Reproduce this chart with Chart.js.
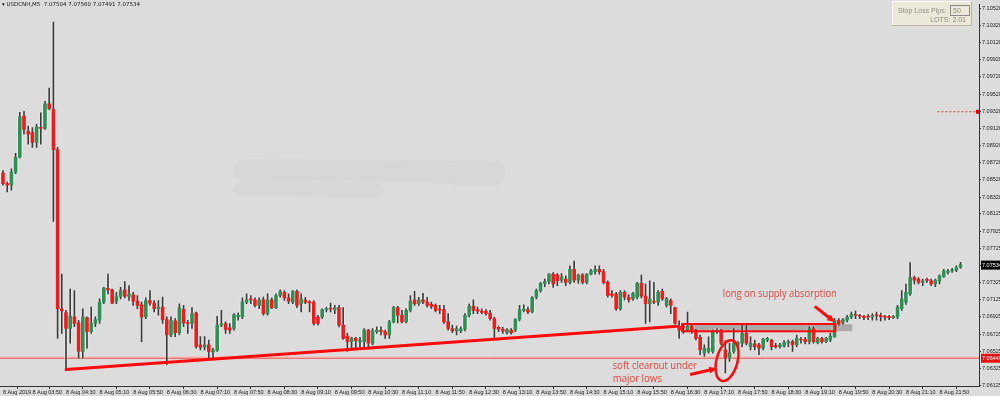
<!DOCTYPE html>
<html>
<head>
<meta charset="utf-8">
<script src="https://cdn.jsdelivr.net/npm/chart.js@4"></script>
<style>
  html, body { margin: 0; padding: 0; background: #dcdcdc; }
  #wrap { width: 1000px; height: 396px; position: relative; }
</style>
</head>
<body>
<div id="wrap"><canvas id="chart" width="1000" height="396"></canvas></div>
<script>
// USDCNH M5, 8 Aug 2019, one candle per 5 minutes starting 03:15
const headerText = '\u25BE USDCNH,M5  7.07504 7.07560 7.07491 7.07534';
const startMinutes = 3 * 60 + 15;
const barMinutes = 5;

const opens = [
  7.08600, 7.08477, 7.08458, 7.08611, 7.08784, 7.09263, 7.09090, 7.09071, 7.08956, 7.09129,
  7.09121, 7.09408, 7.09339, 7.08872, 7.07020, 7.06974, 7.06790, 7.06925, 7.06856, 7.06522,
  7.06917, 7.06752, 7.06848, 7.06886, 7.07097, 7.07258, 7.07239, 7.07109, 7.07162, 7.07239,
  7.07162, 7.07181, 7.07109, 7.07066, 7.06925, 7.07116, 7.07086, 7.07020, 7.07040, 7.06894,
  7.06714, 7.06879, 7.06741, 7.07013, 7.06856, 7.06848, 7.06971, 7.06599, 7.06572, 7.06599,
  7.06514, 7.06534, 7.06829, 7.06848, 7.06798, 7.06790, 7.06925, 7.06925, 7.07097, 7.07128,
  7.07124, 7.07059, 7.07124, 7.06963, 7.07124, 7.07032, 7.07174, 7.07212, 7.07147, 7.07097,
  7.07224, 7.07078, 7.07124, 7.07097, 7.07097, 7.06924, 7.06924, 7.07009, 7.07020, 7.07009,
  7.07032, 7.06829, 7.06702, 7.06637, 7.06675, 7.06637, 7.06637, 7.06771, 7.06618, 7.06752,
  7.06771, 7.06752, 7.06714, 7.06867, 7.07032, 7.06944, 7.06867, 7.07001, 7.07124, 7.07078,
  7.07124, 7.07097, 7.07070, 7.07059, 7.07009, 7.07009, 7.06867, 7.06790, 7.06763, 7.06763,
  7.06782, 7.06944, 7.07047, 7.07009, 7.06993, 7.06993, 7.06970, 7.06905, 7.06802, 7.06783,
  7.06740, 7.06771, 7.06771, 7.06898, 7.07001, 7.07009, 7.06982, 7.07154, 7.07231, 7.07315,
  7.07338, 7.07423, 7.07415, 7.07354, 7.07365, 7.07327, 7.07480, 7.07354, 7.07415, 7.07327,
  7.07423, 7.07453, 7.07480, 7.07453, 7.07327, 7.07193, 7.07193, 7.07020, 7.07212, 7.07154,
  7.07135, 7.07154, 7.07315, 7.07166, 7.07078, 7.07105, 7.07097, 7.07223, 7.07059, 7.07116,
  7.07032, 7.06817, 7.06809, 7.06771, 7.06817, 7.06771, 7.06687, 7.06503, 7.06522, 7.06522,
  7.06752, 7.06771, 7.06541, 7.06445, 7.06522, 7.06599, 7.06618, 7.06733, 7.06579, 7.06610,
  7.06599, 7.06560, 7.06656, 7.06656, 7.06587, 7.06579, 7.06587, 7.06618, 7.06637, 7.06599,
  7.06664, 7.06664, 7.06637, 7.06790, 7.06625, 7.06675, 7.06637, 7.06656, 7.06694, 7.06886,
  7.06855, 7.06886, 7.06924, 7.06951, 7.06936, 7.06932, 7.06928, 7.06924, 7.06944, 7.06944,
  7.06924, 7.06924, 7.06917, 7.06924, 7.07020, 7.07097, 7.07193, 7.07384, 7.07365, 7.07327,
  7.07354, 7.07346, 7.07308, 7.07346, 7.07392, 7.07442, 7.07461, 7.07469, 7.07504
];
const highs = [
  7.08630, 7.08496, 7.08649, 7.08830, 7.09309, 7.09320, 7.09148, 7.09129, 7.09167, 7.09301,
  7.09435, 7.09589, 7.10359, 7.08899, 7.07423, 7.07001, 7.07250, 7.07231, 7.06886, 7.07020,
  7.06925, 7.07040, 7.06925, 7.07135, 7.07270, 7.07423, 7.07250, 7.07212, 7.07270, 7.07335,
  7.07289, 7.07212, 7.07174, 7.07097, 7.07147, 7.07231, 7.07116, 7.07116, 7.07155, 7.06925,
  7.06925, 7.06905, 7.07078, 7.07059, 7.06886, 7.07032, 7.06982, 7.06695, 7.06695, 7.06656,
  7.06560, 7.06932, 7.07001, 7.06867, 7.06848, 7.06963, 7.06971, 7.07147, 7.07193, 7.07174,
  7.07147, 7.07147, 7.07155, 7.07193, 7.07147, 7.07193, 7.07239, 7.07231, 7.07193, 7.07231,
  7.07239, 7.07193, 7.07154, 7.07116, 7.07116, 7.06944, 7.07020, 7.07039, 7.07085, 7.07059,
  7.07059, 7.07032, 7.06733, 7.06687, 7.06687, 7.06687, 7.06790, 7.06779, 7.06790, 7.06809,
  7.06809, 7.06771, 7.06886, 7.07047, 7.07047, 7.07001, 7.07020, 7.07174, 7.07223, 7.07154,
  7.07200, 7.07154, 7.07097, 7.07078, 7.07059, 7.07059, 7.06963, 7.06829, 7.06817, 7.06809,
  7.06963, 7.07078, 7.07124, 7.07039, 7.07020, 7.07009, 7.07001, 7.06924, 7.06817, 7.06802,
  7.06790, 7.06790, 7.06905, 7.07059, 7.07066, 7.07039, 7.07162, 7.07250, 7.07327, 7.07365,
  7.07430, 7.07442, 7.07430, 7.07430, 7.07404, 7.07519, 7.07576, 7.07423, 7.07430, 7.07430,
  7.07480, 7.07519, 7.07519, 7.07480, 7.07346, 7.07231, 7.07212, 7.07231, 7.07231, 7.07185,
  7.07212, 7.07327, 7.07411, 7.07308, 7.07346, 7.07327, 7.07231, 7.07250, 7.07154, 7.07135,
  7.07039, 7.06878, 7.06829, 7.06982, 7.06829, 7.06779, 7.06714, 7.06599, 7.06694, 7.06771,
  7.06790, 7.06779, 7.06648, 7.06618, 7.06790, 7.06637, 7.06829, 7.06829, 7.06694, 7.06656,
  7.06618, 7.06675, 7.06687, 7.06664, 7.06618, 7.06618, 7.06648, 7.06656, 7.06656, 7.06714,
  7.06687, 7.06687, 7.06809, 7.06809, 7.06687, 7.06687, 7.06687, 7.06733, 7.06905, 7.06905,
  7.06905, 7.06944, 7.06982, 7.06993, 7.06955, 7.06944, 7.06955, 7.06963, 7.06982, 7.06970,
  7.06944, 7.06944, 7.06944, 7.07059, 7.07231, 7.07308, 7.07557, 7.07400, 7.07384, 7.07365,
  7.07377, 7.07365, 7.07365, 7.07415, 7.07480, 7.07480, 7.07492, 7.07519, 7.07560
];
const lows = [
  7.08458, 7.08381, 7.08400, 7.08592, 7.08776, 7.09052, 7.08937, 7.08899, 7.08899, 7.08937,
  7.09109, 7.09339, 7.08036, 7.06675, 7.06733, 7.06311, 7.06618, 7.06810, 7.06445, 7.06445,
  7.06560, 7.06733, 7.06810, 7.06848, 7.07078, 7.07193, 7.07078, 7.07078, 7.07135, 7.07147,
  7.07116, 7.07059, 7.07020, 7.06637, 7.06905, 7.07059, 7.06982, 7.06944, 7.06848, 7.06369,
  7.06695, 7.06695, 7.06714, 7.06810, 7.06733, 7.06790, 7.06560, 7.06541, 7.06541, 7.06445,
  7.06445, 7.06522, 7.06810, 7.06733, 7.06733, 7.06771, 7.06886, 7.06905, 7.07078, 7.07078,
  7.07040, 7.07020, 7.06944, 7.06944, 7.07020, 7.07020, 7.07155, 7.07116, 7.07078, 7.07078,
  7.07032, 7.06982, 7.07078, 7.06982, 7.06829, 7.06829, 7.06905, 7.06982, 7.06982, 7.06963,
  7.06809, 7.06664, 7.06522, 7.06541, 7.06560, 7.06579, 7.06579, 7.06579, 7.06599, 7.06733,
  7.06714, 7.06675, 7.06675, 7.06855, 7.06855, 7.06855, 7.06855, 7.06982, 7.07059, 7.07059,
  7.07078, 7.07039, 7.07020, 7.06982, 7.06963, 7.06848, 7.06771, 7.06740, 7.06714, 7.06740,
  7.06763, 7.06924, 7.06963, 7.06963, 7.06963, 7.06944, 7.06886, 7.06687, 7.06752, 7.06733,
  7.06725, 7.06725, 7.06752, 7.06878, 7.06982, 7.06963, 7.06970, 7.07135, 7.07212, 7.07277,
  7.07308, 7.07269, 7.07289, 7.07327, 7.07289, 7.07308, 7.07327, 7.07315, 7.07308, 7.07308,
  7.07415, 7.07423, 7.07423, 7.07308, 7.07154, 7.07154, 7.07001, 7.07001, 7.07124, 7.07097,
  7.07116, 7.07135, 7.07147, 7.06848, 7.06867, 7.07078, 7.07059, 7.07116, 7.07039, 7.06963,
  7.06840, 7.06675, 7.06733, 7.06752, 7.06733, 7.06656, 7.06484, 7.06464, 7.06503, 7.06503,
  7.06733, 7.06599, 7.06273, 7.06407, 7.06503, 7.06560, 7.06579, 7.06599, 7.06541, 7.06541,
  7.06484, 7.06541, 7.06637, 7.06541, 7.06560, 7.06560, 7.06572, 7.06579, 7.06522, 7.06579,
  7.06618, 7.06610, 7.06610, 7.06618, 7.06610, 7.06618, 7.06625, 7.06637, 7.06687, 7.06829,
  7.06840, 7.06867, 7.06905, 7.06905, 7.06905, 7.06894, 7.06894, 7.06886, 7.06886, 7.06878,
  7.06886, 7.06894, 7.06905, 7.06905, 7.07001, 7.07070, 7.07174, 7.07308, 7.07308, 7.07289,
  7.07327, 7.07289, 7.07277, 7.07308, 7.07384, 7.07423, 7.07442, 7.07453, 7.07491
];
const closes = [
  7.08477, 7.08458, 7.08611, 7.08784, 7.09255, 7.09109, 7.09052, 7.08956, 7.09140, 7.09121,
  7.09408, 7.09351, 7.08872, 7.07020, 7.06994, 7.06790, 7.06932, 7.06848, 7.06522, 7.06925,
  7.06752, 7.06848, 7.06894, 7.07097, 7.07262, 7.07239, 7.07086, 7.07162, 7.07231, 7.07166,
  7.07193, 7.07109, 7.07059, 7.06925, 7.07116, 7.07086, 7.07020, 7.07040, 7.06894, 7.06714,
  7.06886, 7.06741, 7.07032, 7.06856, 7.06848, 7.06963, 7.06580, 7.06572, 7.06599, 7.06522,
  7.06541, 7.06829, 7.06848, 7.06779, 7.06771, 7.06951, 7.06944, 7.07097, 7.07128, 7.07124,
  7.07059, 7.07124, 7.06963, 7.07124, 7.07032, 7.07174, 7.07220, 7.07147, 7.07109, 7.07224,
  7.07059, 7.07135, 7.07097, 7.07089, 7.06848, 7.06848, 7.07009, 7.07020, 7.07016, 7.07032,
  7.06829, 7.06675, 7.06637, 7.06675, 7.06648, 7.06656, 7.06771, 7.06618, 7.06763, 7.06771,
  7.06752, 7.06714, 7.06867, 7.07032, 7.06944, 7.06867, 7.07001, 7.07108, 7.07078, 7.07124,
  7.07097, 7.07059, 7.07047, 7.07001, 7.07005, 7.06867, 7.06790, 7.06763, 7.06790, 7.06786,
  7.06944, 7.07047, 7.07001, 7.06993, 7.06978, 7.06963, 7.06905, 7.06790, 7.06783, 7.06760,
  7.06779, 7.06740, 7.06898, 7.07009, 7.07020, 7.06982, 7.07154, 7.07231, 7.07315, 7.07338,
  7.07423, 7.07308, 7.07346, 7.07392, 7.07327, 7.07480, 7.07354, 7.07415, 7.07327, 7.07423,
  7.07461, 7.07480, 7.07453, 7.07327, 7.07174, 7.07174, 7.07020, 7.07212, 7.07154, 7.07124,
  7.07200, 7.07315, 7.07166, 7.07078, 7.07135, 7.07097, 7.07212, 7.07135, 7.07135, 7.07059,
  7.06848, 7.06771, 7.06802, 7.06817, 7.06771, 7.06675, 7.06541, 7.06560, 7.06560, 7.06752,
  7.06771, 7.06618, 7.06445, 7.06510, 7.06618, 7.06625, 7.06733, 7.06618, 7.06618, 7.06579,
  7.06560, 7.06664, 7.06675, 7.06579, 7.06579, 7.06599, 7.06625, 7.06637, 7.06599, 7.06675,
  7.06656, 7.06637, 7.06790, 7.06637, 7.06675, 7.06637, 7.06675, 7.06702, 7.06886, 7.06840,
  7.06894, 7.06924, 7.06955, 7.06944, 7.06932, 7.06917, 7.06924, 7.06944, 7.06940, 7.06924,
  7.06921, 7.06917, 7.06932, 7.07039, 7.07135, 7.07212, 7.07384, 7.07354, 7.07327, 7.07346,
  7.07350, 7.07308, 7.07354, 7.07404, 7.07461, 7.07461, 7.07469, 7.07499, 7.07534
];

// price axis labels as shown by the terminal
const priceTicks = [
  7.10520, 7.10320, 7.10120, 7.09920, 7.09720, 7.09520, 7.09320, 7.09120, 7.08920, 7.08720,
  7.08520, 7.08320, 7.08125, 7.07925, 7.07725, 7.07525, 7.07325, 7.07125, 7.06925, 7.06725,
  7.06525, 7.06325, 7.06125
];
// bar indices carrying a time label
const timeTicks = [0, 7, 15, 23, 31, 39, 47, 55, 63, 71, 79, 87, 95, 103, 111, 119, 127,
  135, 143, 151, 159, 167, 175, 183, 191, 199, 207, 215, 223];

const lastPrice = 7.07534;
const majorLow = 7.06449;
const stopLevel = 7.09320;

// drawings, in bar index / price units
const trendLine = { from: [15, 7.06311], to: [160.5, 7.06817] };
const zoneFill = { from: 161.7, to: 202.2, top: 7.06840, bottom: 7.06759 };
const zoneFrame = { from: 161.7, to: 198.2, top: 7.06842, bottom: 7.06757 };
const clearoutEllipse = { x: 172.4, y: 7.06415, rx: 2.5, ry: 0.00243, rot: 0.26 };
const arrowLong = { from: [193.3, 7.07047], to: [198.0, 7.06866] };
const arrowClear = { from: [163.6, 7.06253], to: [169.9, 7.06325] };
const noteLong = { text: 'long on supply absorption', x: 171.4, y: 7.07185 };
const noteClear = [
  { text: 'soft clearout under', x: 145.2, y: 7.06346 },
  { text: 'major lows', x: 145.2, y: 7.06196 }
];
// blurred-out scribble in the middle of the chart
const smudges = [
  { from: [57.5, 7.08630], to: [117.0, 7.08610], w: 0.0026 },
  { from: [107.5, 7.08560], to: [117.5, 7.08560], w: 0.0020 },
  { from: [56.5, 7.08412], to: [89.0, 7.08400], w: 0.0017 }
];

const BULL = '#2f8f55';
const BEAR = '#ee1c1c';
const NOTE_RED = '#e6443c';

const pad2 = n => String(n).padStart(2, '0');
function timeLabel(i) {
  if (i === 0) return '8 Aug 2019';
  const m = startMinutes + i * barMinutes;
  return '8 Aug ' + pad2(Math.floor(m / 60)) + ':' + pad2(m % 60);
}

function drawArrow(ctx, x0, y0, x1, y1) {
  const ang = Math.atan2(y1 - y0, x1 - x0);
  const head = 8;
  ctx.beginPath();
  ctx.moveTo(x0, y0);
  ctx.lineTo(x1 - Math.cos(ang) * head * 0.7, y1 - Math.sin(ang) * head * 0.7);
  ctx.stroke();
  ctx.beginPath();
  ctx.moveTo(x1, y1);
  ctx.lineTo(x1 - head * Math.cos(ang - 0.45), y1 - head * Math.sin(ang - 0.45));
  ctx.lineTo(x1 - head * Math.cos(ang + 0.45), y1 - head * Math.sin(ang + 0.45));
  ctx.closePath();
  ctx.fill();
}

const overlay = {
  id: 'overlay',
  beforeDatasetsDraw(chart) {
    const { ctx, chartArea: a, scales: { x, y } } = chart;
    const px = v => x.getPixelForValue(v), py = v => y.getPixelForValue(v);
    ctx.save();
    // smudge
    ctx.strokeStyle = '#d7d7d7';
    ctx.lineCap = 'round';
    smudges.forEach(s => {
      ctx.lineWidth = py(7.08) - py(7.08 + s.w);
      ctx.beginPath();
      ctx.moveTo(px(s.from[0]), py(s.from[1]));
      ctx.lineTo(px(s.to[0]), py(s.to[1]));
      ctx.stroke();
    });
    // grey zone behind the candles
    ctx.fillStyle = '#aaaaaa';
    const zx0 = px(zoneFill.from), zx1 = px(zoneFill.to);
    const zy0 = py(zoneFill.top), zy1 = py(zoneFill.bottom);
    ctx.fillRect(zx0, zy0, zx1 - zx0, zy1 - zy0);
    // major low level
    const ly = py(majorLow);
    ctx.lineCap = 'butt';
    ctx.strokeStyle = '#f3c4c2';
    ctx.lineWidth = 3;
    ctx.beginPath(); ctx.moveTo(a.left, ly); ctx.lineTo(a.right, ly); ctx.stroke();
    ctx.strokeStyle = '#e0605a';
    ctx.lineWidth = 1;
    ctx.beginPath(); ctx.moveTo(a.left, ly + 0.5); ctx.lineTo(a.right, ly + 0.5); ctx.stroke();
    ctx.restore();
  },
  afterDatasetsDraw(chart) {
    const { ctx, chartArea: a, scales: { x, y } } = chart;
    const px = v => x.getPixelForValue(v), py = v => y.getPixelForValue(v);
    ctx.save();
    ctx.beginPath(); ctx.rect(a.left, a.top, a.right - a.left, a.bottom - a.top); ctx.clip();

    // trend line under the lows
    ctx.strokeStyle = '#ff0a0a';
    ctx.lineWidth = 3;
    ctx.lineCap = 'round';
    ctx.beginPath();
    ctx.moveTo(px(trendLine.from[0]), py(trendLine.from[1]));
    ctx.lineTo(px(trendLine.to[0]), py(trendLine.to[1]));
    ctx.stroke();

    // supply zone frame
    ctx.lineWidth = 2;
    ctx.lineCap = 'butt';
    const fx0 = px(zoneFrame.from), fx1 = px(zoneFrame.to);
    const fy0 = py(zoneFrame.top), fy1 = py(zoneFrame.bottom);
    ctx.strokeRect(fx0, fy0, fx1 - fx0, fy1 - fy0);

    // ellipse round the clearout candles
    const ex = px(clearoutEllipse.x), ey = py(clearoutEllipse.y);
    const erx = px(clearoutEllipse.x + clearoutEllipse.rx) - ex;
    const ery = py(clearoutEllipse.y - clearoutEllipse.ry) - ey;
    ctx.lineWidth = 2.5;
    ctx.beginPath();
    ctx.ellipse(ex, ey, erx, ery, clearoutEllipse.rot, 0, Math.PI * 2);
    ctx.stroke();

    // arrows
    ctx.fillStyle = '#ff0a0a';
    ctx.lineWidth = 3;
    drawArrow(ctx, px(arrowLong.from[0]), py(arrowLong.from[1]), px(arrowLong.to[0]), py(arrowLong.to[1]));
    drawArrow(ctx, px(arrowClear.from[0]), py(arrowClear.from[1]), px(arrowClear.to[0]), py(arrowClear.to[1]));

    // stop level marker, dotted
    const sy = py(stopLevel);
    ctx.strokeStyle = '#e03030';
    ctx.lineWidth = 1;
    ctx.setLineDash([2, 2]);
    ctx.beginPath(); ctx.moveTo(px(222.5), sy + 0.5); ctx.lineTo(a.right, sy + 0.5); ctx.stroke();
    ctx.setLineDash([]);
    ctx.fillStyle = '#e00000';
    ctx.fillRect(a.right - 3, sy - 1.5, 3, 4);

    // notes
    ctx.fillStyle = NOTE_RED;
    ctx.textBaseline = 'middle';
    ctx.font = '10px "Open Sans"';
    ctx.fillText(noteLong.text, px(noteLong.x), py(noteLong.y), 114);
    noteClear.forEach((n, k) => ctx.fillText(n.text, px(n.x), py(n.y), k === 0 ? 84 : 49));
    ctx.restore();
  },
  afterDraw(chart) {
    const { ctx, chartArea: a, scales: { y } } = chart;
    ctx.save();
    // header line
    ctx.fillStyle = '#1a1a1a';
    ctx.font = '5.5px "DejaVu Sans"';
    ctx.textBaseline = 'middle';
    ctx.fillText(headerText, 2, 5);

    // price boxes on the axis
    const box = (price, bg, fg) => {
      const yy = y.getPixelForValue(price);
      ctx.fillStyle = bg;
      ctx.fillRect(a.right + 2, yy - 4, 20, 9);
      ctx.fillStyle = fg;
      ctx.font = '5.5px "Liberation Sans"';
      ctx.fillText(price.toFixed(5), a.right + 3, yy + 0.5);
    };
    box(lastPrice, '#000000', '#ffffff');
    box(majorLow, '#e81010', '#ffffff');

    // lot panel
    ctx.fillStyle = '#ece9d8';
    ctx.fillRect(892, 1, 80, 25);
    ctx.strokeStyle = '#ffffff';
    ctx.beginPath(); ctx.moveTo(892.5, 26); ctx.lineTo(892.5, 1.5); ctx.lineTo(972, 1.5); ctx.stroke();
    ctx.strokeStyle = '#b8b4a2';
    ctx.beginPath(); ctx.moveTo(971.5, 1.5); ctx.lineTo(971.5, 25.5); ctx.lineTo(892, 25.5); ctx.stroke();
    ctx.fillStyle = '#8a8a8a';
    ctx.font = '7px "Liberation Sans"';
    ctx.textAlign = 'left';
    ctx.fillText('Stop Loss Pips:', 898, 11);
    ctx.strokeStyle = '#8a8a8a';
    ctx.strokeRect(950.5, 5.5, 19, 10);
    ctx.fillText('50', 953, 11);
    ctx.textAlign = 'right';
    ctx.fillText('LOTS: 2.01', 966, 20);
    ctx.restore();
  }
};

const idx = opens.map((_, i) => i);
const isBull = idx.map(i => closes[i] >= opens[i]);

new Chart(document.getElementById('chart'), {
  type: 'bar',
  data: {
    datasets: [
      {
        label: 'body',
        data: idx.map(i => ({ x: i, y: [opens[i], closes[i]] })),
        backgroundColor: idx.map(i => isBull[i] ? BULL : BEAR),
        borderWidth: 0,
        barThickness: 3,
        minBarLength: 1,
        grouped: false,
        order: 0
      },
      {
        label: 'wick',
        data: idx.map(i => ({ x: i, y: [lows[i], highs[i]] })),
        backgroundColor: '#3c3c3c',
        borderWidth: 0,
        barThickness: 1,
        grouped: false,
        order: 1
      },
      {
        label: 'halo',
        data: idx.map(i => ({ x: i, y: [Math.min(opens[i], closes[i]), Math.max(opens[i], closes[i])] })),
        backgroundColor: 'rgba(255,255,255,0.45)',
        borderWidth: 0,
        barThickness: 5,
        minBarLength: 3,
        grouped: false,
        order: 2
      },
      {
        label: 'wick halo',
        data: idx.map(i => ({ x: i, y: [lows[i], highs[i]] })),
        backgroundColor: 'rgba(255,255,255,0.3)',
        borderWidth: 0,
        barThickness: 3,
        grouped: false,
        order: 3
      }
    ]
  },
  options: {
    responsive: false,
    animation: false,
    layout: { padding: 0 },
    plugins: { legend: { display: false }, tooltip: { enabled: false } },
    scales: {
      x: {
        type: 'linear',
        min: -0.714,
        max: 232.4,
        offset: false,
        grid: { display: true, drawOnChartArea: false, tickLength: 3, color: '#333' },
        border: { display: true, color: '#333' },
        afterBuildTicks: s => { s.ticks = timeTicks.map(v => ({ value: v })); },
        afterFit: s => { s.height = 10; },
        ticks: {
          autoSkip: false,
          maxRotation: 0,
          align: 'start',
          padding: 0,
          color: '#1a1a1a',
          font: { size: 5.5, family: 'Liberation Sans' },
          callback: v => timeLabel(v)
        }
      },
      y: {
        position: 'right',
        min: 7.06120,
        max: 7.10566,
        grid: { display: true, drawOnChartArea: false, tickLength: 2, color: '#333' },
        border: { display: true, color: '#333' },
        afterBuildTicks: s => { s.ticks = priceTicks.map(v => ({ value: v })); },
        afterFit: s => { s.width = 21; },
        ticks: {
          padding: 1,
          color: '#1a1a1a',
          font: { size: 5.5, family: 'Liberation Sans' },
          callback: v => v.toFixed(5)
        }
      }
    }
  },
  plugins: [overlay]
});
</script>
</body>
</html>
